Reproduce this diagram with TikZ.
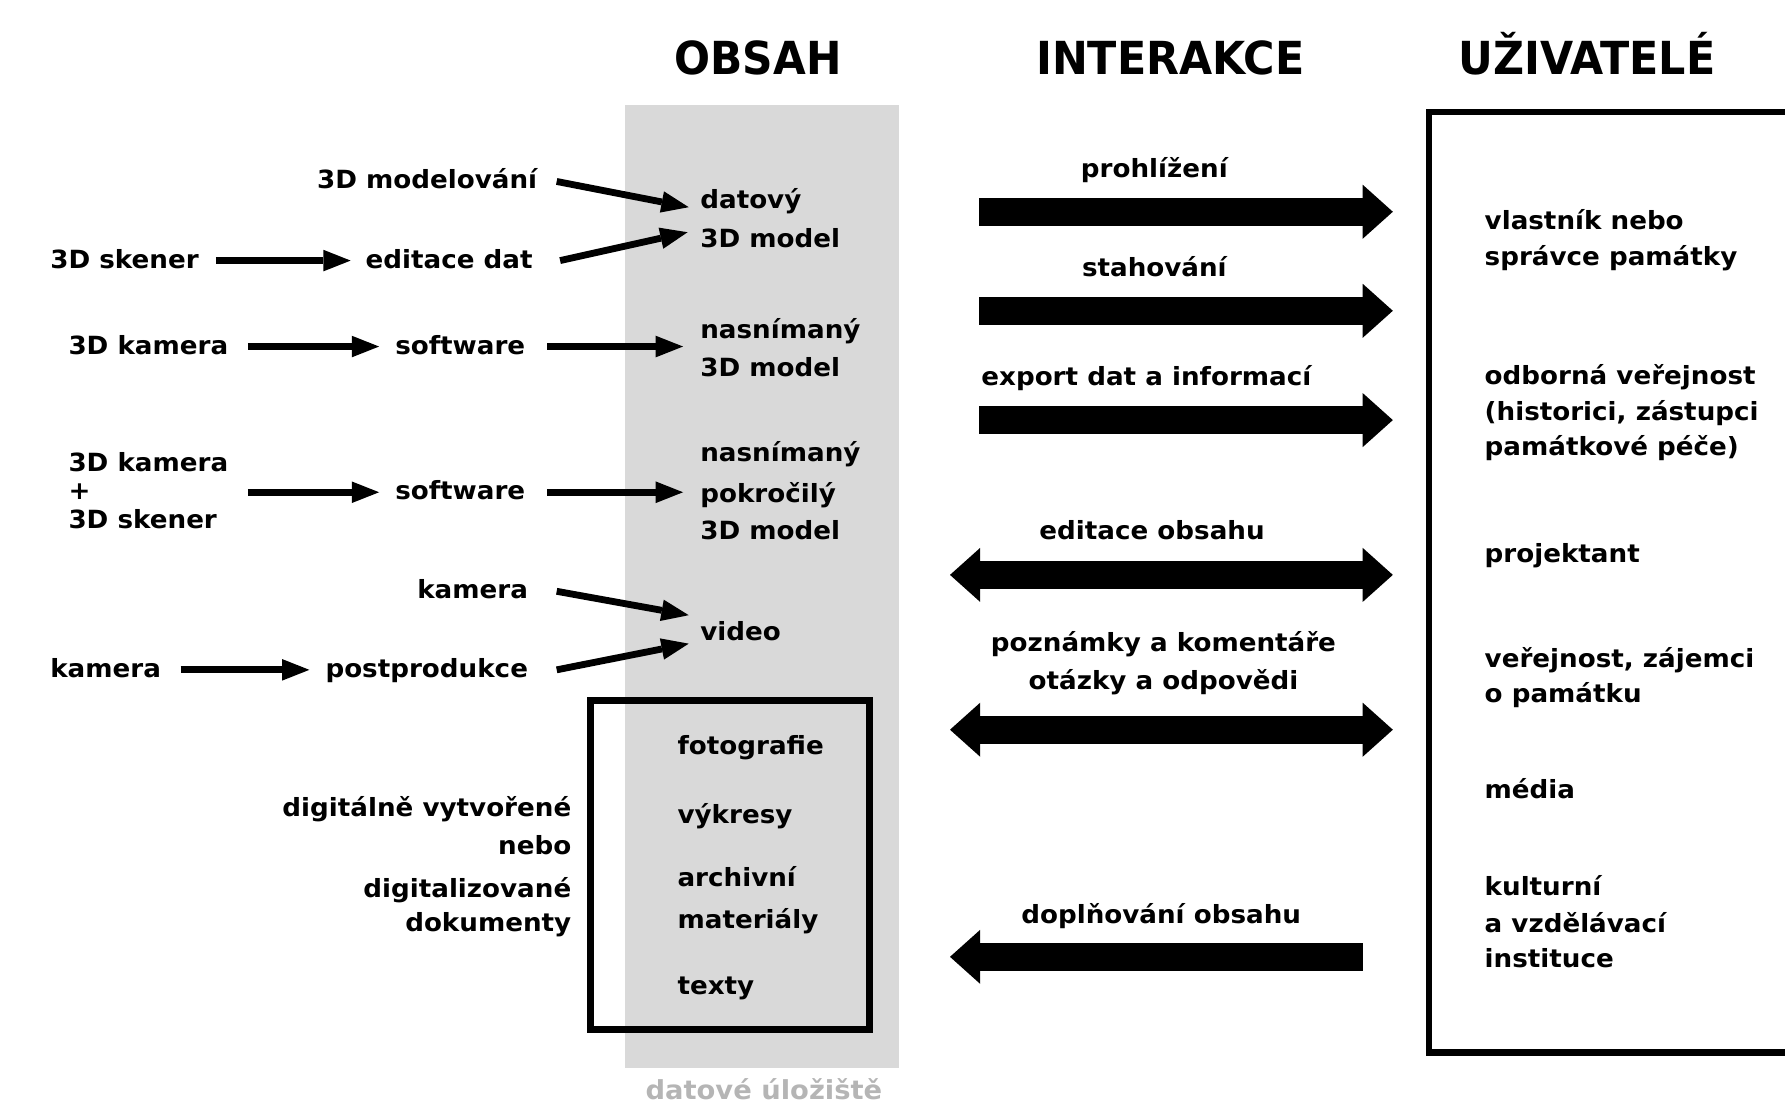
\documentclass[tikz,border=0pt]{standalone}
\usepackage{fontspec}
\usepackage{graphicx}
\setmainfont{DejaVu Sans}[FakeStretch=1.045]
\usetikzlibrary{arrows.meta}
\begin{document}
\begin{tikzpicture}[x=1pt,y=-1pt,line join=miter,
	txt/.style={inner sep=0pt,text height=17.6pt,text depth=4.4pt,font=\fontsize{22}{26}\selectfont\bfseries},
	ttl/.style={inner sep=0pt,font=\fontsize{40}{48}\selectfont\bfseries},
	arr/.style={line width=6pt,-{Triangle[length=24pt,width=19pt,line width=0pt]}},
	bigarr/.style={line width=24.5pt,-{Triangle[length=26.5pt,width=47.5pt,line width=0pt]}},
	bigdbl/.style={line width=24.5pt,{Triangle[length=26.5pt,width=47.5pt,line width=0pt]}-{Triangle[length=26.5pt,width=47.5pt,line width=0pt]}}]
		\useasboundingbox (0,0) rectangle (1568,970);
		\clip (0,0) rectangle (1568,970);
		% sloupce
		\node[fill=black!15,minimum width=241pt,minimum height=846pt,inner sep=0pt] (obsah) at (669.5,515) {};
		\node[txt,font=\fontsize{23}{27}\selectfont\bfseries,text=black!29,anchor=base] (uloziste) at (671,966) {datové úložiště};
		\node[draw,line width=6pt,minimum width=245pt,minimum height=289pt,inner sep=0pt] (dokbox) at (641.5,759.5) {};
		\node[draw,line width=5.5pt,minimum width=344.5pt,minimum height=826pt,inner sep=0pt] (uziv) at (1427.75,511.5) {};
		% nadpisy
		\node[ttl,anchor=base] (tobsah) at (666,65) {\scalebox{0.89}[1]{OBSAH}};
		\node[ttl,anchor=base] (tinter) at (1028,65) {\scalebox{0.9}[1]{INTERAKCE}};
		\node[ttl,anchor=base] (tuziv) at (1394,65) {\scalebox{0.9}[1]{UŽIVATELÉ}};
		% zdroje
		\node[txt,anchor=base east] (modelovani) at (472,166) {3D modelování};
		\node[txt,anchor=base west] (skener) at (44,235.5) {3D skener};
		\node[txt,anchor=base west] (editace) at (321,235.5) {editace dat};
		\node[txt,anchor=base west] (datovy) at (615,183) {datový};
		\node[txt,anchor=base west] (datmodel) at (615,217) {3D model};
		\node[txt,anchor=base west] (kamera3d) at (60,311) {3D kamera};
		\node[txt,anchor=base west] (software) at (347,311) {software};
		\node[txt,anchor=base west] (nasnimany) at (615,297) {nasnímaný};
		\node[txt,anchor=base west] (nasmodel) at (615,331) {3D model};
		\node[txt,anchor=base west] (kamera3dp) at (60,414) {3D kamera};
		\node[txt,anchor=base west] (plus) at (60,439) {+};
		\node[txt,anchor=base west] (skenerp) at (60,464) {3D skener};
		\node[txt,anchor=base west] (softwarep) at (347,439) {software};
		\node[txt,anchor=base west] (nasnimanyp) at (615,405) {nasnímaný};
		\node[txt,anchor=base west] (pokrocily) at (615,441) {pokročilý};
		\node[txt,anchor=base west] (pokmodel) at (615,474) {3D model};
		\node[txt,anchor=base east] (kameravid) at (464,526) {kamera};
		\node[txt,anchor=base west] (video) at (615,563) {video};
		\node[txt,anchor=base west] (kamerapost) at (44,595) {kamera};
		\node[txt,anchor=base east] (postprodukce) at (464,595) {postprodukce};
		\node[txt,anchor=base west] (fotografie) at (595,663) {fotografie};
		\node[txt,anchor=base west] (vykresy) at (595,723) {výkresy};
		\node[txt,anchor=base west] (archivni) at (595,779) {archivní};
		\node[txt,anchor=base west] (materialy) at (595,816) {materiály};
		\node[txt,anchor=base west] (texty) at (595,874) {texty};
		\node[txt,anchor=base east] (digit) at (502,717) {digitálně vytvořené};
		\node[txt,anchor=base east] (nebo) at (502,751) {nebo};
		\node[txt,anchor=base east] (digitaliz) at (502,788) {digitalizované};
		\node[txt,anchor=base east] (dokumenty) at (502,818) {dokumenty};
		\draw[arr] ([xshift=17pt]modelovani.east) -- ([xshift=-10pt,yshift=-5.6pt]datovy.west);
		\draw[arr] ([xshift=24pt]editace.east) -- ([xshift=-11pt,yshift=6.4pt]datmodel.west);
		\draw[arr] ([xshift=15pt]skener.east) -- ([xshift=-13pt]editace.west);
		\draw[arr] ([xshift=17pt]kamera3d.east) -- ([xshift=-14pt]software.west);
		\draw[arr,shorten <=19pt,shorten >=15pt] (software.east) -- (software.east -| nasnimany.west);
		\draw[arr,shorten <=17pt] (plus -| kamera3dp.east) -- ([xshift=-14pt]softwarep.west);
		\draw[arr,shorten <=19pt,shorten >=15pt] (softwarep.east) -- (softwarep.east -| pokrocily.west);
		\draw[arr] ([xshift=25pt]kameravid.east) -- ([xshift=-10pt,yshift=16pt]video.west);
		\draw[arr] ([xshift=25pt]postprodukce.east) -- ([xshift=-10pt,yshift=-9pt]video.west);
		\draw[arr] ([xshift=17pt]kamerapost.east) -- ([xshift=-14pt]postprodukce.west);
		% interakce
		\coordinate (iL) at (860,0);
		\coordinate (iLt) at (834.5,0);
		\coordinate (iR) at (1223.5,0);
		\coordinate (iRs) at (1197,0);
		\node[txt,anchor=base] (prohl) at (1014,156) {prohlížení};
		\node[txt,anchor=base] (stah) at (1014,243) {stahování};
		\node[txt,anchor=base] (export) at (1007,339) {export dat a informací};
		\node[txt,anchor=base] (edob) at (1012,474) {editace obsahu};
		\node[txt,anchor=base] (pozn) at (1022,572) {poznámky a komentáře};
		\node[txt,anchor=base] (otaz) at (1022,606) {otázky a odpovědi};
		\node[txt,anchor=base] (dopl) at (1020,811) {doplňování obsahu};
		\draw[bigarr] (iL |- 0,186) -- (iR |- 0,186);
		\draw[bigarr] (iL |- 0,273) -- (iR |- 0,273);
		\draw[bigarr] (iL |- 0,369) -- (iR |- 0,369);
		\draw[bigdbl] (iLt |- 0,505) -- (iR |- 0,505);
		\draw[bigdbl] (iLt |- 0,641) -- (iR |- 0,641);
		\draw[bigarr] (iRs |- 0,840.5) -- (iLt |- 0,840.5);
		% uzivatele
		\node[txt,anchor=base west] (vlastnik) at (1304,202) {vlastník nebo};
		\node[txt,anchor=base west] (spravce) at (1304,233) {správce památky};
		\node[txt,anchor=base west] (odborna) at (1304,338) {odborná veřejnost};
		\node[txt,anchor=base west] (historici) at (1304,369) {(historici, zástupci};
		\node[txt,anchor=base west] (pece) at (1304,400) {památkové péče)};
		\node[txt,anchor=base west] (projektant) at (1304,494) {projektant};
		\node[txt,anchor=base west] (verejnost) at (1304,586) {veřejnost, zájemci};
		\node[txt,anchor=base west] (opamatku) at (1304,617) {o památku};
		\node[txt,anchor=base west] (media) at (1304,701) {média};
		\node[txt,anchor=base west] (kulturni) at (1304,787) {kulturní};
		\node[txt,anchor=base west] (vzdelavaci) at (1304,819) {a vzdělávací};
		\node[txt,anchor=base west] (instituce) at (1304,850) {instituce};
\end{tikzpicture}
\end{document}
